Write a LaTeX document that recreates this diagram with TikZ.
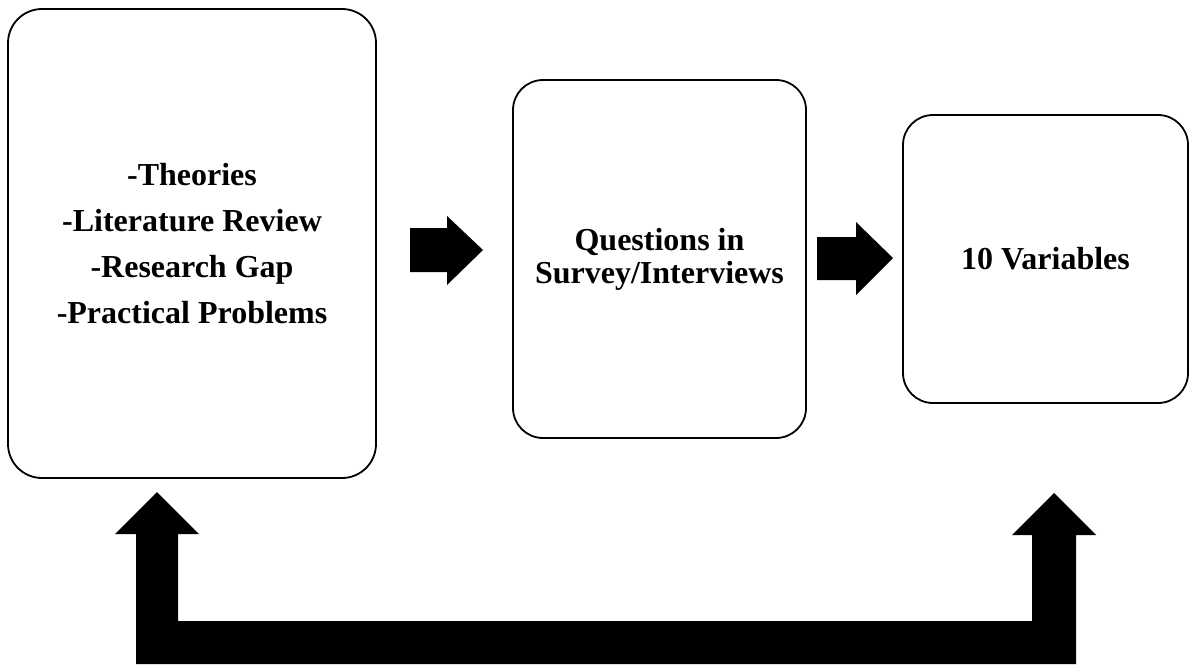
\documentclass[tikz,border=0pt]{standalone}
\usepackage{fontspec}
\setmainfont{Liberation Serif}
\begin{document}
\begin{tikzpicture}[x=1pt,y=-1pt,
  stage/.style={draw=black, line width=1.8pt, rounded corners=34pt, fill=white,
    align=center, inner sep=0pt, font=\fontsize{32}{46}\selectfont\bfseries},
  blockarrow/.style={fill=black, draw=none}]
\useasboundingbox (0,0) rectangle (1190,664);

% three stages
\node[stage, minimum width=368pt, minimum height=469pt] (src) at (192,243.5)
  {-Theories\\-Literature Review\\-Research Gap\\-Practical Problems};
\node[stage, rounded corners=30pt, minimum width=293pt, minimum height=358pt,
  font=\fontsize{32}{33}\selectfont\bfseries] (q) at (659.5,259)
  {Questions in\\Survey/Interviews};
\node[stage, rounded corners=30pt, minimum width=285pt, minimum height=288pt] (var) at (1045.5,259)
  {10 Variables};

% forward block arrows
\fill[blockarrow] (410,228) -- (447,228) -- (447,216) -- (483,250) -- (447,285)
  -- (447,272) -- (410,272) -- cycle;
\fill[blockarrow] (817,237) -- (856,237) -- (856,222) -- (893,258) -- (856,295)
  -- (856,280) -- (817,280) -- cycle;

% feedback arrow from the variables back to the sources
\fill[blockarrow] (157,492) -- (199,534) -- (178,534) -- (178,621) -- (1032,621)
  -- (1032,535) -- (1012,535) -- (1054,493) -- (1096,535) -- (1076,535)
  -- (1076,664) -- (136,664) -- (136,534) -- (115,534) -- cycle;
\end{tikzpicture}
\end{document}
